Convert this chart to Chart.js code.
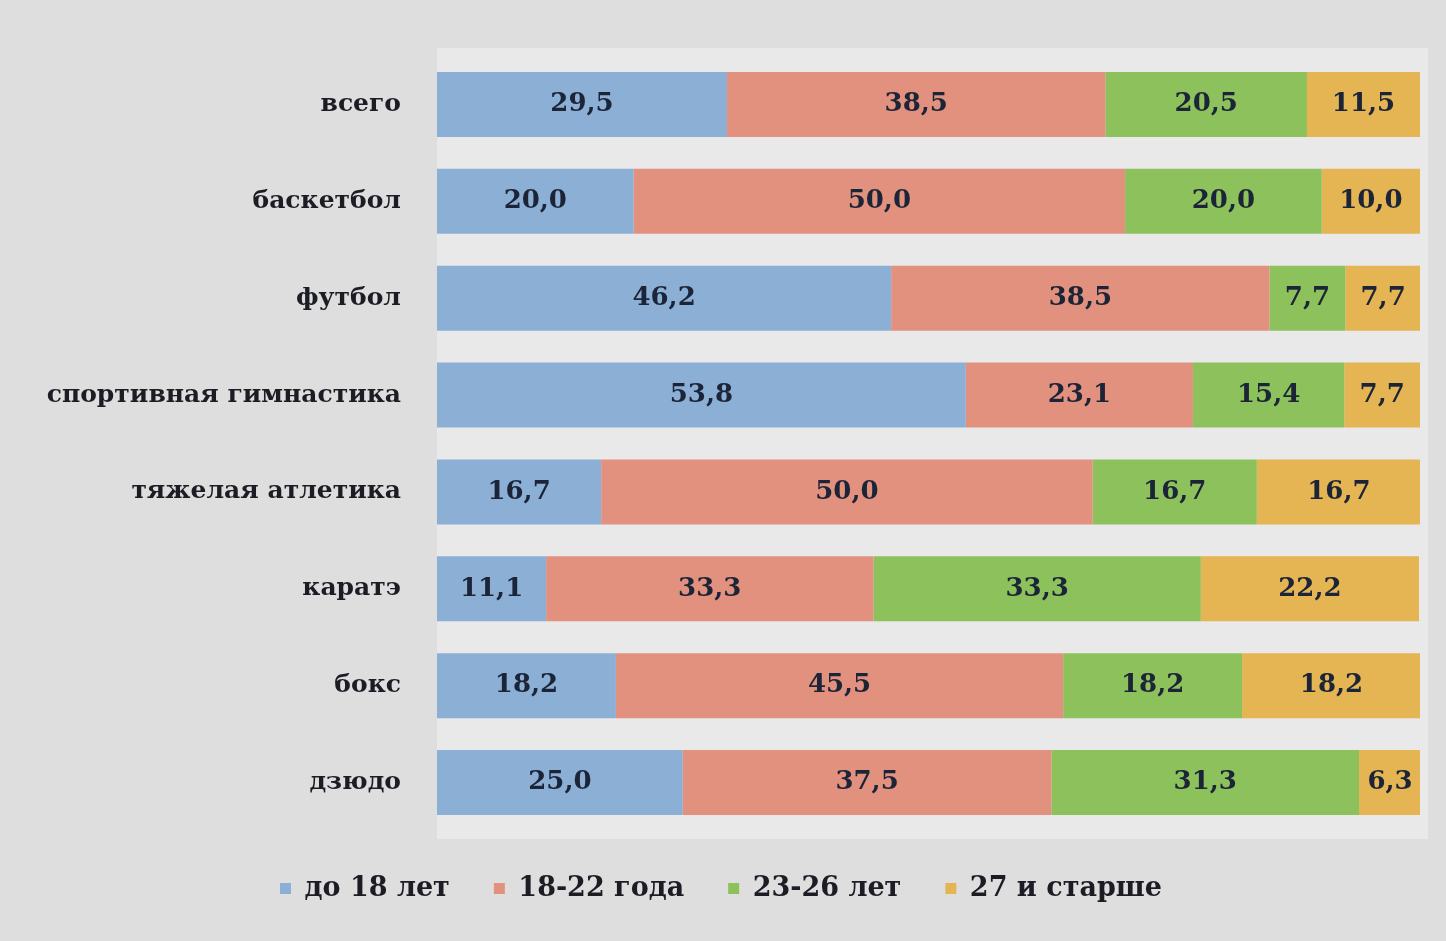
<!DOCTYPE html>
<html>
<head>
<meta charset="utf-8">
<script src="https://cdn.jsdelivr.net/npm/chart.js@4"></script>
<style>
  html, body { margin: 0; padding: 0; background: #dedede; }
  #wrap { width: 1446px; height: 941px; }
</style>
</head>
<body>
<div id="wrap"><canvas id="chart" width="1446" height="941"></canvas></div>
<script>
// категории и группы
const sports = ['всего', 'баскетбол', 'футбол', 'спортивная гимнастика', 'тяжелая атлетика', 'каратэ', 'бокс', 'дзюдо'];
const ageGroups = ['до 18 лет', '18-22 года', '23-26 лет', '27 и старше'];

// значения, %
const under18 = [29.5, 20.0, 46.2, 53.8, 16.7, 11.1, 18.2, 25.0];
const age18to22 = [38.5, 50.0, 38.5, 23.1, 50.0, 33.3, 45.5, 37.5];
const age23to26 = [20.5, 20.0, 7.7, 15.4, 16.7, 33.3, 18.2, 31.3];
const age27plus = [11.5, 10.0, 7.7, 7.7, 16.7, 22.2, 18.2, 6.3];

const colors = ['#8cafd6', '#e2917f', '#8dc15c', '#e4b552'];
const serif = '"DejaVu Serif", "Liberation Serif", serif';

// подписи значений внутри сегментов
const valueLabels = {
  id: 'valueLabels',
  afterDatasetsDraw(chart) {
    const ctx = chart.ctx;
    ctx.save();
    ctx.font = 'bold 26px ' + serif;
    ctx.fillStyle = '#1c2438';
    ctx.textAlign = 'center';
    ctx.textBaseline = 'middle';
    chart.data.datasets.forEach((ds, i) => {
      chart.getDatasetMeta(i).data.forEach((bar, j) => {
        const x = (bar.x + bar.base) / 2;
        ctx.fillText(ds.data[j].toFixed(1).replace('.', ','), x, bar.y);
      });
    });
    ctx.restore();
  }
};

// светлая подложка под областью построения
const plotBg = {
  id: 'plotBg',
  beforeDraw(chart) {
    const { ctx, chartArea: a } = chart;
    ctx.save();
    ctx.fillStyle = '#e9e9ea';
    ctx.fillRect(a.left, a.top - 8, a.right - a.left + 8, a.bottom - a.top + 16);
    ctx.restore();
  }
};

new Chart(document.getElementById('chart'), {
  type: 'bar',
  data: {
    labels: sports,
    datasets: [under18, age18to22, age23to26, age27plus].map((d, i) => ({
      label: ageGroups[i],
      data: d,
      backgroundColor: colors[i],
      borderWidth: 0,
      barPercentage: 0.67,
      categoryPercentage: 1.0
    }))
  },
  options: {
    indexAxis: 'y',
    responsive: false,
    animation: false,
    layout: { padding: { top: 56, left: 22, right: 26, bottom: 29 } },
    scales: {
      x: { stacked: true, min: 0, max: 100, display: false },
      y: {
        stacked: true,
        grid: { display: false },
        border: { display: false },
        afterFit: s => { s.width = 415; },
        ticks: { padding: 28, color: '#1c1c24', font: { family: serif, size: 25, weight: 'bold' } }
      }
    },
    plugins: {
      tooltip: { enabled: false },
      legend: {
        position: 'bottom',
        labels: {
          boxWidth: 11, boxHeight: 11, padding: 44,
          color: '#1c1c24',
          font: { family: serif, size: 27, weight: 'bold' }
        }
      }
    }
  },
  plugins: [plotBg, valueLabels]
});
</script>
</body>
</html>
